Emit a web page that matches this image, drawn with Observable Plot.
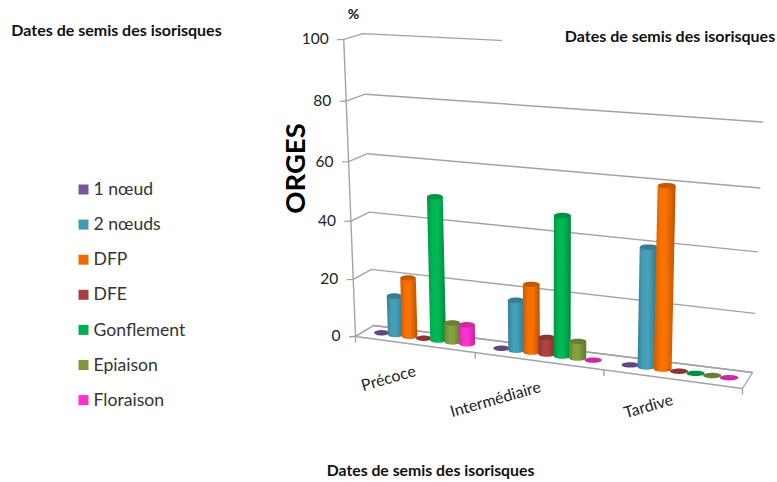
<!DOCTYPE html>
<html><head><meta charset="utf-8">
<script src="https://cdn.jsdelivr.net/npm/d3@7"></script>
<script src="https://cdn.jsdelivr.net/npm/@observablehq/plot@0.6"></script>
<style>html,body{margin:0;padding:0;background:#fff}svg{display:block}</style>
</head><body><div id="chart"></div>
<script>
const categories = ["Précoce", "Intermédiaire", "Tardive"];
const seriesNames = ["1 nœud", "2 nœuds", "DFP", "DFE", "Gonflement", "Epiaison", "Floraison"];
const seriesColors = ["#75569A", "#4298B0", "#EE6C00", "#A8403F", "#00B050", "#7F9A3C", "#FF2FC8"];
const noeud1 = [0, 0, 0];
const noeuds2 = [13.6, 17.3, 40];
const dfp = [20.5, 23.3, 60];
const dfe = [0, 5.8, 0];
const gonflement = [49.2, 47.3, 0];
const epiaison = [6.7, 5.8, 0];
const floraison = [6.7, 0, 0];
const seriesValues = [noeud1, noeuds2, dfp, dfe, gonflement, epiaison, floraison];
const yTicks = [0, 20, 40, 60, 80, 100];
const title = "Dates de semis des isorisques";

// perspective camera of the 3-D chart: world -> screen, then expressed in the scales' units
const lerp = (a, b, t) => a + (b - a) * t;
const xW = px => (px - 355) / 129;      // x scale unit: one category along the front floor edge
const yW = py => (336 - py) / 2.97;     // y scale unit: percent on the front axis
function camera(X, d, v) {
  const u = X / 3, s = 0.896 * u / (1 - 0.104 * u);
  const bx = lerp(lerp(355, 742, s), lerp(373, 752, s), d);
  const by = lerp(lerp(336, 388, s), lerp(325, 372, s), d);
  const p0 = lerp(lerp(2.83, 2.96, s), lerp(2.78, 2.9, s), d);
  const k = lerp(0.0005, 0.001, s);
  const h = p0 * v * (1 + k * v);
  return [bx + (bx - 553) * 0.0002 * h, by - h];
}
const P = (X, d, v) => { const [a, b] = camera(X, d, v); return {x: xW(a), y: yW(b)}; };

const gray = "#a3a3a3";
const gridRows = yTicks.flatMap(t => [
  {t, ...xy(camera(0, 0, t), -6, 0.3)}, {t, ...P(0, 0, t)}, {t, ...P(0, 1, t)}, {t, ...P(3, 1, t)}
]);
function xy([a, b], dx = 0, dy = 0) { return {x: xW(a + dx), y: yW(b + dy)}; }
const wall = [P(0, 0, 100), P(0, 0, 0)];
const floor = [P(0, 1, 0), P(0, 0, 0), P(3, 0, 0), P(3, 1, 0), P(0, 1, 0)];
const catTicks = [0, 1, 2, 3].flatMap(X => [{X, ...P(X, 0, 0)}, {X, ...xy(camera(X, 0, 0), 0, 5.5)}]);
const tickLabels = yTicks.map(t => ({t, ...xy(camera(0, 0, t), -15, 0)}));

const barStep = 0.12;
const bars = categories.flatMap((c, ci) => seriesNames.map((n, si) => ({
  c, n, si, value: seriesValues[si][ci], X: ci + 0.514 + (si - 3) * barStep
})));
const halfWidth = X => (camera(X + barStep / 2, 0.5, 0)[0] - camera(X - barStep / 2, 0.5, 0)[0]) * 0.55;
function ellipse(X, v) {
  const c = camera(X, 0.5, v), a = halfWidth(X), b = 2.7;
  return d3.range(0, 33).map(i => {
    const t = -1 + i / 16, r = Math.sqrt(Math.max(0, 1 - t * t));
    return {x: xW(c[0] + a * t), y1: yW(c[1] - b * r), y2: yW(c[1] + b * r)};
  });
}
function body(X, v) {
  const a = halfWidth(X), b = camera(X, 0.5, 0), t = camera(X, 0.5, v);
  return [{x1: xW(b[0] - a), x2: xW(b[0] + a), y: yW(b[1])}, {x1: xW(t[0] - a), x2: xW(t[0] + a), y: yW(t[1])}];
}
const capColor = c => d3.color(c).darker(0.55).formatHex();

const defs = () => {
  const el = d3.create("svg:defs");
  seriesColors.forEach((c, i) => {
    const g = el.append("linearGradient").attr("id", "cyl" + i).attr("x1", 0).attr("x2", 1).attr("y1", 0).attr("y2", 0);
    [[0, d3.color(c).darker(0.45)], [0.3, d3.color(c).brighter(0.1)], [0.55, d3.color(c).brighter(0.15)], [1, d3.color(c).darker(0.7)]]
      .forEach(([o, col]) => g.append("stop").attr("offset", o).attr("stop-color", col.formatHex()));
  });
  return el.node();
};

const barMarks = bars.flatMap(b => {
  const cap = Plot.areaY(ellipse(b.X, b.value), {x: "x", y1: "y1", y2: "y2", fill: capColor(seriesColors[b.si])});
  if (b.value === 0) return [cap];
  return [
    Plot.areaY(ellipse(b.X, 0), {x: "x", y1: "y1", y2: "y2", fill: `url(#cyl${b.si})`}),
    Plot.areaX(body(b.X, b.value), {x1: "x1", x2: "x2", y: "y", fill: `url(#cyl${b.si})`}),
    cap
  ];
});

const font = "Lato";
const txt = (s, px, py, o = {}) => Plot.text([s], {
  x: xW(px), y: yW(py), text: d => d, fontFamily: font, fill: "#111", fontSize: 14, textAnchor: "middle", lineAnchor: "middle", ...o
});
const legendRows = seriesNames.map((n, i) => ({n, i, color: seriesColors[i], y: yW(189 + i * 35.1)}));
const legX = xW(83), legT = xW(93);

const chart = Plot.plot({
  width: 777, height: 482, marginTop: 0, marginRight: 0, marginBottom: 0, marginLeft: 0,
  style: {background: "#fff"},
  x: {domain: [xW(0), xW(777)], range: [0, 777], axis: null},
  y: {domain: [yW(482), yW(0)], range: [482, 0], axis: null},
  color: {type: "identity"},
  marks: [
    defs,
    Plot.line(gridRows, {x: "x", y: "y", z: "t", stroke: gray, strokeWidth: 1.4}),
    Plot.rectY([0], {x1: xW(502), x2: xW(777), y1: yW(0), y2: yW(60), fill: "#fff"}),
    Plot.line(wall, {x: "x", y: "y", stroke: gray, strokeWidth: 1.4}),
    Plot.line(floor, {x: "x", y: "y", stroke: gray, strokeWidth: 1.4}),
    Plot.line(catTicks, {x: "x", y: "y", z: "X", stroke: gray, strokeWidth: 1.4}),
    ...barMarks,
    Plot.text(tickLabels, {x: "x", y: "y", text: d => String(d.t), textAnchor: "end", lineAnchor: "middle", fontFamily: font, fontSize: 15.5, fill: "#222"}),
    txt(categories[0], 388, 378, {rotate: -16, fontSize: 16, fill: "#222"}),
    txt(categories[1], 495, 399, {rotate: -16, fontSize: 16, fill: "#222"}),
    txt(categories[2], 648, 406, {rotate: -16, fontSize: 16, fill: "#222"}),
    txt("ORGES", 296, 168, {rotate: -90, fontSize: 27.5, fontWeight: 700, fill: "#000"}),
    txt("%", 353, 14, {fontWeight: 700, fontSize: 14}),
    txt(title, 116, 30, {fontWeight: 700, fontSize: 16}),
    txt(title, 669.5, 36, {fontWeight: 700, fontSize: 16}),
    txt(title, 430, 470, {fontWeight: 700, fontSize: 15.8}),
    Plot.dot(legendRows, {x: () => legX, y: "y", symbol: "square", r: 5.64, fill: "color"}),
    Plot.text(legendRows, {x: () => legT, y: "y", text: "n", textAnchor: "start", lineAnchor: "middle", fontFamily: font, fontSize: 17.6, fill: "#333"})
  ]
});
document.getElementById("chart").append(chart);
</script></body></html>
